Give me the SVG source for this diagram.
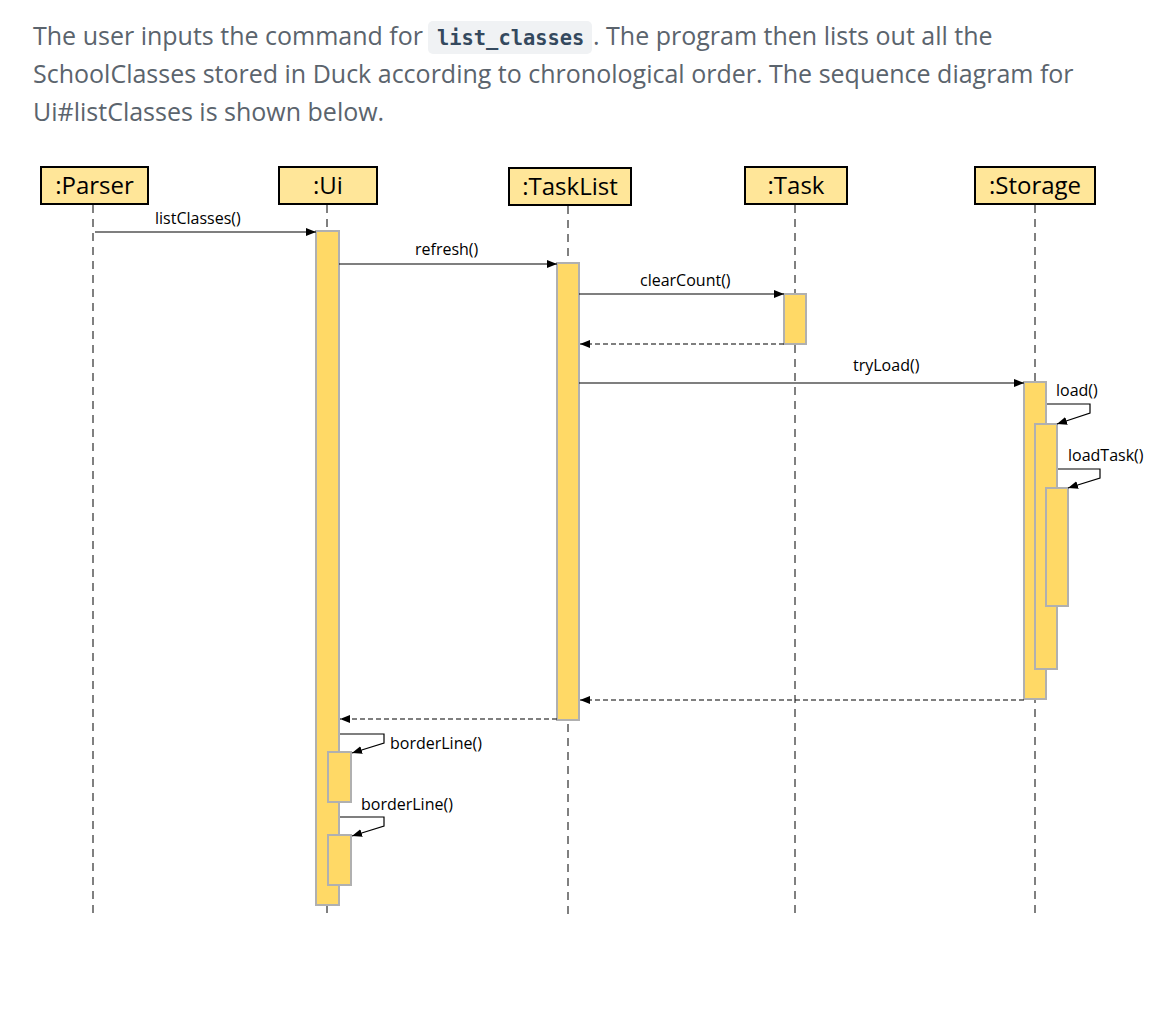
<svg xmlns="http://www.w3.org/2000/svg" width="1174" height="1026" viewBox="0 0 1174 1026">
<style>
.para{font-family:"Open Sans","Noto Sans",sans-serif;font-size:25px;fill:#5b646d}
.code{font-family:"DejaVu Sans Mono","Liberation Mono",monospace;font-size:20.4px;fill:#34495e;font-weight:bold}
.head rect{fill:#ffe699;stroke:#000;stroke-width:2}
.head text{font-family:"Open Sans","Noto Sans",sans-serif;font-size:24px;fill:#000;text-anchor:middle}
.life{stroke:#808080;stroke-width:2;stroke-dasharray:8,6;fill:none}
.act{fill:#ffd966;stroke:#b0b0b0;stroke-width:2}
.msg{stroke:#000;stroke-width:1.2;fill:none}
.ret{stroke:#000;stroke-width:1.2;fill:none;stroke-dasharray:5,3}
.lbl{font-family:"Open Sans","Noto Sans",sans-serif;font-size:16px;fill:#000}
</style>
<defs>
<marker id="ah" viewBox="0 0 10 8" refX="10" refY="4" markerWidth="10" markerHeight="8" markerUnits="userSpaceOnUse" orient="auto">
<path d="M0,0 L10,4 L0,8 Z" fill="#000"/>
</marker>
</defs>
<rect width="1174" height="1026" fill="#fff"/>
<g id="paragraph">
<rect x="428" y="21" width="164" height="33" rx="5" fill="#f0f2f4"/>
<text class="para" x="33" y="45">The user inputs the command for</text>
<text class="code" x="437" y="45">list_classes</text>
<text class="para" x="593" y="45">. The program then lists out all the</text>
<text class="para" x="33" y="83">SchoolClasses stored in Duck according to chronological order. The sequence diagram for</text>
<text class="para" x="33" y="121">Ui#listClasses is shown below.</text>
</g>
<g id="lifelines">
<line class="life" x1="93" y1="205" x2="93" y2="916"/>
<line class="life" x1="327" y1="205" x2="327" y2="916"/>
<line class="life" x1="568" y1="206" x2="568" y2="916"/>
<line class="life" x1="795" y1="205" x2="795" y2="916"/>
<line class="life" x1="1035" y1="205" x2="1035" y2="916"/>
</g>
<g id="node-parser" class="head"><rect x="41" y="167" width="107" height="37"/><text x="94.5" y="194">:Parser</text></g>
<g id="node-ui" class="head"><rect x="279" y="167" width="98" height="37"/><text x="328" y="194">:Ui</text></g>
<g id="node-tasklist" class="head"><rect x="509" y="168" width="122" height="37"/><text x="570" y="195">:TaskList</text></g>
<g id="node-task" class="head"><rect x="745" y="167" width="102" height="37"/><text x="796" y="194">:Task</text></g>
<g id="node-storage" class="head"><rect x="975" y="167" width="120" height="37"/><text x="1035" y="194">:Storage</text></g>
<g id="activations">
<rect class="act" x="316" y="231" width="23" height="674"/>
<rect class="act" x="557" y="263" width="22" height="457"/>
<rect class="act" x="784" y="294" width="22" height="50"/>
<rect class="act" x="1024" y="382" width="22" height="317"/>
<rect class="act" x="1035" y="424" width="22" height="245"/>
<rect class="act" x="1046" y="488" width="22" height="118"/>
<rect class="act" x="328" y="752" width="23" height="50"/>
<rect class="act" x="328" y="835" width="23" height="50"/>
</g>
<g id="connectors">
<line class="msg" x1="95" y1="232" x2="316" y2="232" marker-end="url(#ah)"/>
<line class="msg" x1="339" y1="264" x2="557" y2="264" marker-end="url(#ah)"/>
<line class="msg" x1="579" y1="294" x2="784" y2="294" marker-end="url(#ah)"/>
<line class="ret" x1="784" y1="344" x2="580" y2="344" marker-end="url(#ah)"/>
<line class="msg" x1="579" y1="383" x2="1024" y2="383" marker-end="url(#ah)"/>
<polyline class="msg" points="1047,404 1090,404 1090,413 1057,424" marker-end="url(#ah)"/>
<polyline class="msg" points="1058,469 1100,469 1100,478 1068,488" marker-end="url(#ah)"/>
<line class="ret" x1="1024" y1="700" x2="580" y2="700" marker-end="url(#ah)"/>
<line class="ret" x1="557" y1="719" x2="340" y2="719" marker-end="url(#ah)"/>
<polyline class="msg" points="340,734 384,734 384,743 352,753" marker-end="url(#ah)"/>
<polyline class="msg" points="340,817 384,817 384,826 352,836" marker-end="url(#ah)"/>
</g>
<g id="labels">
<text class="lbl" x="155" y="224">listClasses()</text>
<text class="lbl" x="415" y="255">refresh()</text>
<text class="lbl" x="640" y="286">clearCount()</text>
<text class="lbl" x="853" y="371">tryLoad()</text>
<text class="lbl" x="1056" y="396">load()</text>
<text class="lbl" x="1068" y="461">loadTask()</text>
<text class="lbl" x="390" y="749">borderLine()</text>
<text class="lbl" x="361" y="810">borderLine()</text>
</g>
</svg>
